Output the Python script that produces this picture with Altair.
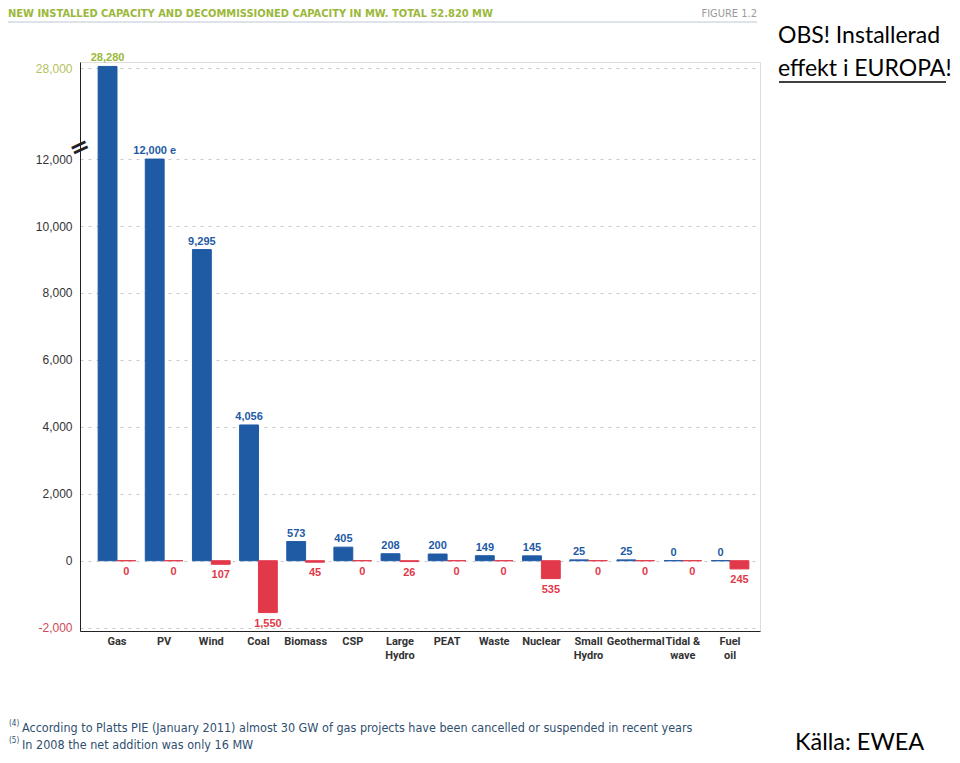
import altair as alt
import pandas as pd

categories = ["Gas", "PV", "Wind", "Coal", "Biomass", "CSP", "Large|Hydro", "PEAT",
              "Waste", "Nuclear", "Small|Hydro", "Geothermal", "Tidal &|wave", "Fuel|oil"]
installed = [28280, 12000, 9295, 4056, 573, 405, 208, 200, 149, 145, 25, 25, 0, 0]
decommissioned = [0, 0, 107, 1550, 45, 0, 26, 0, 0, 535, 0, 0, 0, 245]
installed_labels = ["28,280", "12,000 e", "9,295", "4,056", "573", "405", "208", "200",
                    "149", "145", "25", "25", "0", "0"]
decom_labels = ["0", "0", "107", "1,550", "45", "0", "26", "0", "0", "535", "0", "0", "0", "245"]
y_ticks = [-2000, 0, 2000, 4000, 6000, 8000, 10000, 12000, 28000]

BREAK = 12000
COMPRESS = 0.17

BLUE = "#1f5aa5"
RED = "#e2394a"
GREEN = "#9ab83a"
COND = "'DejaVu Sans Condensed', 'Roboto', sans-serif"


def squash(v):
    return v if v <= BREAK else BREAK + (v - BREAK) * COMPRESS


rows = []
for i, c in enumerate(categories):
    rows.append({"category": c, "series": "Installed", "value": installed[i],
                 "label": installed_labels[i],
                 "lcolor": GREEN if installed[i] > BREAK else BLUE})
    rows.append({"category": c, "series": "Decommissioned", "value": -decommissioned[i],
                 "label": decom_labels[i], "lcolor": RED})
df = pd.DataFrame(rows)

tick_vals = [squash(t) for t in y_ticks]

base = alt.Chart(df).transform_calculate(
    yplot=f"datum.value > {BREAK} ? {BREAK} + (datum.value - {BREAK}) * {COMPRESS} : datum.value"
)

xscale = alt.Scale(paddingInner=0.2, paddingOuter=0.31, align=0.62)
xenc = alt.X(
    "category:N", sort=categories, scale=xscale,
    axis=alt.Axis(title=None, labelAngle=0, ticks=False, domain=True, domainColor="#222",
                  domainWidth=1.2, labelFont="Roboto", labelFontWeight="bold",
                  labelFontSize=11, labelColor="#333", labelPadding=4, labelOverlap=False,
                  labelExpr="split(datum.label, '|')", labelLineHeight=14, grid=False),
)
xoff = alt.XOffset("series:N", sort=["Installed", "Decommissioned"])
yscale = alt.Scale(domain=[-2100, 14900], nice=False, zero=False)

bars = base.mark_bar(strokeWidth=1).encode(
    x=xenc,
    xOffset=xoff,
    y=alt.Y("yplot:Q", scale=yscale,
            axis=alt.Axis(
                title=None, values=tick_vals, ticks=False, domain=True, domainColor="#222",
                domainWidth=1, grid=True, gridDash=[3, 5], gridColor="#c9c9c9",
                labelFont="Liberation Sans", labelFontSize=12, labelPadding=8,
                labelExpr=f"datum.value > {BREAK} ? format({BREAK} + (datum.value - {BREAK}) / {COMPRESS}, ',.0f') : replace(format(datum.value, ',.0f'), '\u2212', '-')",
                labelColor={"condition": [{"test": f"datum.value > {BREAK}", "value": "#b3c25e"},
                                          {"test": "datum.value < 0", "value": "#cf4a57"}],
                            "value": "#333"},
            )),
    y2=alt.datum(0),
    color=alt.Color("series:N", scale=alt.Scale(domain=["Installed", "Decommissioned"],
                                                range=[BLUE, RED]), legend=None),
    stroke=alt.Stroke("series:N", scale=alt.Scale(domain=["Installed", "Decommissioned"],
                                                  range=[BLUE, RED]), legend=None),
)

top_text = base.transform_filter("datum.series == 'Installed'").mark_text(
    baseline="bottom", dy=-3, font="Liberation Sans", fontWeight="bold", fontSize=11
).encode(
    x=alt.X("category:N", sort=categories, scale=xscale), xOffset=xoff,
    y=alt.Y("yplot:Q"), text="label:N", color=alt.Color("lcolor:N", scale=None),
)

bottom_text = base.transform_filter("datum.series == 'Decommissioned'").mark_text(
    baseline="top", dy=5, font="Liberation Sans", fontWeight="bold", fontSize=11
).encode(
    x=alt.X("category:N", sort=categories, scale=xscale), xOffset=xoff,
    y=alt.Y("yplot:Q"), text="label:N", color=alt.Color("lcolor:N", scale=None),
)

# axis break marker
brk = alt.Chart(pd.DataFrame({"y": [BREAK + 330], "t": ["="]})).mark_text(
    fontSize=24, fontWeight="bold", angle=335, color="#222", font="DejaVu Sans"
).encode(x=alt.value(0), y=alt.Y("y:Q", scale=yscale), text="t:N")

# annotations
notes = pd.DataFrame([
    {"x": -72, "y": -48, "t": "NEW INSTALLED CAPACITY AND DECOMMISSIONED CAPACITY IN MW. TOTAL 52.820 MW",
     "c": GREEN, "s": 11, "f": COND, "w": "bold", "a": "left"},
    {"x": 677, "y": -48, "t": "FIGURE 1.2", "c": "#9a9a9a", "s": 11,
     "f": COND, "w": "normal", "a": "right"},
    {"x": -58, "y": 666, "t": "According to Platts PIE (January 2011) almost 30 GW of gas projects have been cancelled or suspended in recent years",
     "c": "#2f4f6f", "s": 12.5, "f": COND, "w": "normal", "a": "left"},
    {"x": -58, "y": 683, "t": "In 2008 the net addition was only 16 MW",
     "c": "#2f4f6f", "s": 12.5, "f": COND, "w": "normal", "a": "left"},
    {"x": -71, "y": 662, "t": "(4)", "c": "#2f4f6f", "s": 8, "f": COND, "w": "normal", "a": "left"},
    {"x": -71, "y": 679, "t": "(5)", "c": "#2f4f6f", "s": 8, "f": COND, "w": "normal", "a": "left"},
    {"x": 698, "y": -26, "t": "OBS! Installerad", "c": "#000", "s": 23, "f": "Lato", "w": "normal", "a": "left"},
    {"x": 698, "y": 7, "t": "effekt i EUROPA!", "c": "#000", "s": 23, "f": "Lato", "w": "normal", "a": "left"},
    {"x": 715, "y": 681, "t": "Källa: EWEA", "c": "#000", "s": 23.5, "f": "Lato", "w": "normal", "a": "left"},
])

note_layers = []
for _, r in notes.iterrows():
    note_layers.append(
        alt.Chart(pd.DataFrame({"t": [r["t"]]})).mark_text(
            font=r["f"], fontSize=float(r["s"]), fontWeight=r["w"], color=r["c"],
            align=r["a"], baseline="middle"
        ).encode(x=alt.value(float(r["x"])), y=alt.value(float(r["y"])), text="t:N")
    )

title_rule = alt.Chart(pd.DataFrame({"a": [0]})).mark_rule(color="#b9c7d4", strokeWidth=1.2).encode(
    x=alt.value(-72), x2=alt.value(677), y=alt.value(-40)
)
underline = alt.Chart(pd.DataFrame({"a": [0]})).mark_rule(color="#000", strokeWidth=1.5).encode(
    x=alt.value(779 - 80), x2=alt.value(946 - 80), y=alt.value(20)
)

chart = alt.layer(bars, top_text, bottom_text, brk, title_rule, underline, *note_layers).properties(
    width=680, height=569,
    autosize=alt.AutoSizeParams(type="none"),
    padding={"left": 72, "top": 54, "right": 192, "bottom": 124},
).configure_view(stroke=None).configure(background="white")

chart.save("out.html", embed_options={"renderer": "svg", "actions": False})
